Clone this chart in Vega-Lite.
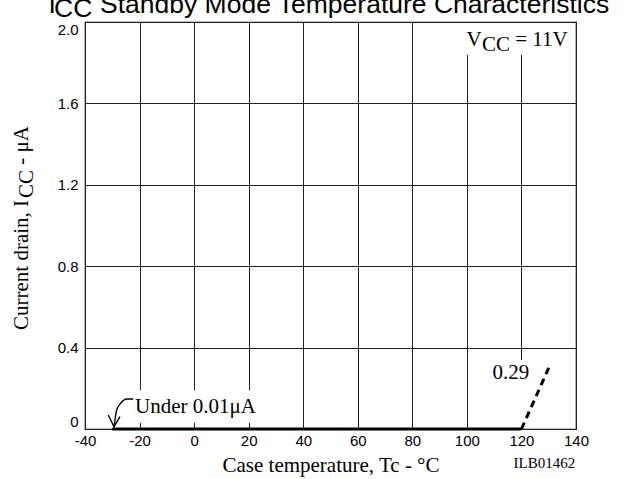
{
  "$schema": "https://vega.github.io/schema/vega-lite/v6.json",
  "autosize": "none",
  "width": 491,
  "height": 407,
  "padding": {"left": 85, "top": 22, "right": 58, "bottom": 50},
  "background": "white",
  "config": {
    "view": {"stroke": "#000", "strokeWidth": 1.2}
  },
  "datasets": {
    "drain": [{"t": -30, "i": 0}, {"t": 120, "i": 0}],
    "rise": [{"t": 120, "i": 0}, {"t": 130, "i": 0.3}],
    "curve": [
      {"t": -22.29, "i": 0.1474},
      {"t": -24.71, "i": 0.1474},
      {"t": -26.91, "i": 0.1263},
      {"t": -28.38, "i": 0.0934},
      {"t": -29.26, "i": 0.0197}
    ],
    "head": [
      {"t": -31.46, "i": 0.0688},
      {"t": -29.37, "i": 0.0113},
      {"t": -27.17, "i": 0.0604}
    ],
    "boxes": [
      {"t": 98.2, "t2": 138.5, "i": 1.995, "i2": 1.838},
      {"t": 108.5, "t2": 124.6, "i": 0.339, "i2": 0.01},
      {"t": -23.5, "t2": 24.2, "i": 0.19, "i2": 0.03}
    ],
    "notes": [
      {"t": -21.67, "i": 0.077, "label": "Under 0.01μA"},
      {"t": 109.4, "i": 0.2457, "label": "0.29"},
      {"t": 99.86, "i": 1.882, "label": "V"},
      {"t": 105.54, "i": 1.857, "label": "CC"},
      {"t": 117.73, "i": 1.882, "label": "= 11V"}
    ],
    "title": [
      {"t": -53.38, "i": 2.044, "label": "I"},
      {"t": -51.36, "i": 2.0245, "label": "CC"},
      {"t": -34.5, "i": 2.044, "label": "Standby Mode Temperature Characteristics"}
    ],
    "ytitle": [
      {"t": -60.9, "i": 0.4865, "label": "Current drain, I"},
      {"t": -59.06, "i": 1.135, "label": "CC"},
      {"t": -60.9, "i": 1.2985, "label": "- μA"}
    ],
    "code": [{"t": 139.7, "i": -0.1916, "label": "ILB01462"}]
  },
  "encoding": {
    "x": {
      "field": "t",
      "type": "quantitative",
      "scale": {"domain": [-40, 140], "nice": false, "zero": false},
      "axis": {
        "values": [-40, -20, 0, 20, 40, 60, 80, 100, 120, 140],
        "labelExpr": "'' + datum.value",
        "grid": true,
        "gridColor": "#222",
        "gridWidth": 1,
        "ticks": false,
        "domain": false,
        "labelFont": "Liberation Sans",
        "labelFontSize": 15,
        "labelColor": "#000",
        "labelPadding": 4,
        "labelFlush": false,
        "title": "Case temperature, Tc - °C",
        "titleFont": "Liberation Serif",
        "titleFontSize": 21,
        "titleFontWeight": "normal",
        "titleColor": "#000",
        "titlePadding": 6
      }
    },
    "y": {
      "field": "i",
      "type": "quantitative",
      "scale": {"domain": [0, 2], "nice": false, "zero": false},
      "axis": {
        "values": [0, 0.4, 0.8, 1.2, 1.6, 2.0],
        "labelExpr": "datum.value == 0 ? '0' : format(datum.value, '.1f')",
        "grid": true,
        "gridColor": "#222",
        "gridWidth": 1,
        "ticks": false,
        "domain": false,
        "labelFont": "Liberation Sans",
        "labelFontSize": 15,
        "labelColor": "#000",
        "labelPadding": 7,
        "labelFlush": true,
        "title": null
      }
    }
  },
  "layer": [
    {
      "data": {"name": "boxes"},
      "mark": {"type": "rect", "fill": "white", "stroke": null},
      "encoding": {"x2": {"field": "t2"}, "y2": {"field": "i2"}}
    },
    {
      "data": {"name": "drain"},
      "mark": {"type": "line", "color": "#000", "strokeWidth": 3.2},
      "encoding": {}
    },
    {
      "data": {"name": "rise"},
      "mark": {"type": "line", "color": "#000", "strokeWidth": 3, "strokeDash": [7, 5]},
      "encoding": {}
    },
    {
      "data": {"name": "curve"},
      "mark": {"type": "line", "color": "#000", "strokeWidth": 1.4, "interpolate": "monotone"},
      "encoding": {}
    },
    {
      "data": {"name": "head"},
      "mark": {"type": "line", "color": "#000", "strokeWidth": 1.4},
      "encoding": {}
    },
    {
      "data": {"name": "notes"},
      "mark": {"type": "text", "font": "Liberation Serif", "fontSize": 21, "align": "left", "baseline": "alphabetic", "color": "#000"},
      "encoding": {"text": {"field": "label"}}
    },
    {
      "data": {"name": "title"},
      "mark": {"type": "text", "font": "Liberation Sans", "fontSize": 26.5, "align": "left", "baseline": "alphabetic", "color": "#000"},
      "encoding": {"text": {"field": "label"}}
    },
    {
      "data": {"name": "ytitle"},
      "mark": {"type": "text", "font": "Liberation Serif", "fontSize": 21, "align": "left", "baseline": "alphabetic", "angle": 270, "color": "#000"},
      "encoding": {"text": {"field": "label"}}
    },
    {
      "data": {"name": "code"},
      "mark": {"type": "text", "font": "Liberation Serif", "fontSize": 15, "align": "right", "baseline": "alphabetic", "color": "#000"},
      "encoding": {"text": {"field": "label"}}
    }
  ]
}
